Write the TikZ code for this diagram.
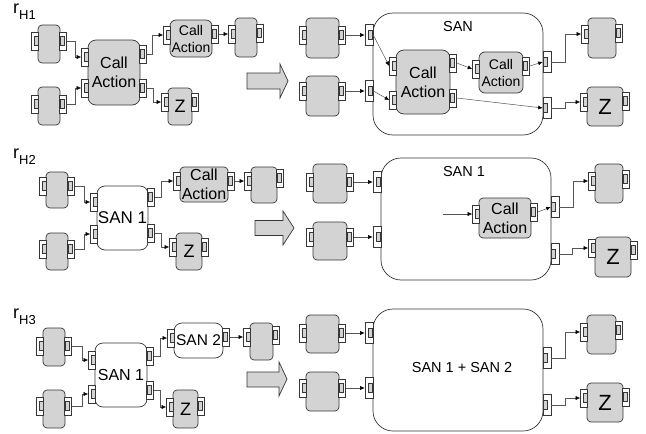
\documentclass[tikz,border=0pt]{standalone}
\usepackage{fontspec}
\setmainfont{Liberation Sans}
\usetikzlibrary{arrows.meta}
\definecolor{boxgray}{RGB}{211,211,211}
\definecolor{edgegray}{RGB}{55,55,55}
\definecolor{linegray}{RGB}{85,85,85}
\newcommand\portL[3]{\node[portl] (#1) at (#2,#3) {};}
\newcommand\portR[3]{\node[portr] (#1) at (#2,#3) {};}
\newcommand\sportL[3]{\node[portl,sanport] (#1) at (#2,#3) {};}
\newcommand\sportR[3]{\node[portr,sanport] (#1) at (#2,#3) {};}
\begin{document}
\begin{tikzpicture}[x=1pt,y=-1pt,
  comp/.style={draw=edgegray, fill=boxgray, line width=0.7pt, rounded corners=4pt, inner sep=0pt, align=center},
  bigcomp/.style={comp, rounded corners=8pt},
  wcomp/.style={comp, fill=white, rounded corners=8pt},
  san/.style={draw=edgegray, fill=white, line width=0.7pt, rounded corners=20pt, inner sep=0pt},
  portl/.style={draw=edgegray, fill=white, line width=0.6pt, minimum width=7pt, minimum height=18pt, inner sep=0pt,
    path picture={\draw[edgegray, fill=boxgray, line width=0.6pt] ([xshift=-4.6pt,yshift=-4.5pt]path picture bounding box.east) rectangle ([xshift=-0.7pt,yshift=4.5pt]path picture bounding box.east);}},
  portr/.style={draw=edgegray, fill=white, line width=0.6pt, minimum width=7pt, minimum height=18pt, inner sep=0pt,
    path picture={\draw[edgegray, fill=boxgray, line width=0.6pt] ([xshift=0.7pt,yshift=-4.5pt]path picture bounding box.west) rectangle ([xshift=4.6pt,yshift=4.5pt]path picture bounding box.west);}},
  sanport/.style={minimum width=8pt, minimum height=21pt},
  conn/.style={draw=linegray, line width=0.5pt, -{Latex[length=4.5pt,width=4pt,color=black]}},
  bigarrow/.style={draw=edgegray, fill=boxgray, line width=0.7pt},
  fbig/.style={font=\fontsize{16}{19}\selectfont},
  fsmall/.style={font=\fontsize{14}{17}\selectfont},
  fz/.style={font=\fontsize{18}{18}\selectfont},
  fZ/.style={font=\fontsize{22}{22}\selectfont},
  lbl/.style={inner sep=0pt, font=\fontsize{14.5}{17}\selectfont},
  rlab/.style={anchor=base west, inner sep=0pt, font=\fontsize{18}{18}\selectfont}
]
\useasboundingbox (0,0) rectangle (646,434);

% ---------------- labels
\node[rlab] (lH1) at (13,13) {r\raisebox{-6pt}{\fontsize{13}{13}\selectfont H1}};
\node[rlab] (lH2) at (13,158) {r\raisebox{-6pt}{\fontsize{13}{13}\selectfont H2}};
\node[rlab] (lH3) at (13,318) {r\raisebox{-6pt}{\fontsize{13}{13}\selectfont H3}};

% ================= ROW 1 left
\node[comp, minimum width=22pt, minimum height=38pt] (A1) at (49,44) {};
\node[comp, minimum width=22pt, minimum height=38pt] (A2) at (49,106) {};
\node[bigcomp, fbig, minimum width=52pt, minimum height=65pt] (CA1) at (114,72.5) {Call\\Action};
\node[comp, fsmall, rounded corners=6pt, minimum width=42pt, minimum height=37pt] (CAs1) at (191,38.5) {Call\\Action};
\node[comp, fz, minimum width=24pt, minimum height=37pt] (Z1) at (180,106.5) {Z};
\node[comp, minimum width=22pt, minimum height=39pt] (A3) at (246,37.5) {};
\portL{A1L}{35}{41}\portR{A1R}{63}{41}
\portL{A2L}{35}{104}\portR{A2R}{63}{104}
\portL{CA1L1}{85}{57}\portL{CA1L2}{85}{88}
\portR{CA1R1}{143}{54}\portR{CA1R2}{143}{88}
\portL{CAs1L}{167}{35}\portR{CAs1R}{215}{34}
\portL{Z1L}{165}{102}\portR{Z1R}{195}{102}
\portL{A3L}{232}{34}\portR{A3R}{260}{33}
\draw[conn] (A1R.east) -- ++(8,0) |- (CA1L1.west);
\draw[conn] (A2R.east) -- ++(8,0) |- (CA1L2.west);
\draw[conn] (CA1R1.east) -- ++(5,0) |- (CAs1L.west);
\draw[conn] (CA1R2.east) -- ++(6,0) |- (Z1L.west);
\draw[conn] (CAs1R.east) -- (A3L.west);
\draw[bigarrow] (247,73) -- (280,73) -- (280,64) -- (288,81) -- (280,98) -- (280,89) -- (247,89) -- cycle;

% ================= ROW 1 right
\node[comp, minimum width=33pt, minimum height=40pt] (B1) at (322.5,38) {};
\node[comp, minimum width=33pt, minimum height=40pt] (B2) at (322.5,96) {};
\node[san, minimum width=170pt, minimum height=122pt] (SAN) at (458,74) {};
\node[lbl] (SANt) at (458,27) {SAN};
\node[bigcomp, fbig, minimum width=54pt, minimum height=64pt] (CA2) at (423,82) {Call\\Action};
\node[comp, fsmall, rounded corners=6pt, minimum width=44pt, minimum height=41pt] (CAs2) at (501,72.5) {Call\\Action};
\node[comp, minimum width=28pt, minimum height=40pt] (C1) at (602,38) {};
\node[comp, fZ, minimum width=36pt, minimum height=39pt] (Z2) at (605,106.5) {Z};
\portL{B1L}{303}{35}\portR{B1R}{342}{35}
\portL{B2L}{303}{91}\portR{B2R}{342}{91}
\sportL{SANL1}{369}{35}\sportL{SANL2}{369}{91}
\sportR{SANR1}{547}{62}\sportR{SANR2}{547}{108}
\portL{CA2L1}{393}{66}\portL{CA2L2}{393}{100}
\portR{CA2R1}{453}{63}\portR{CA2R2}{453}{98}
\portL{CAs2L}{476}{69}\portR{CAs2R}{526}{66}
\portL{C1L}{585}{34}\portR{C1R}{619}{33}
\portL{Z2L}{584}{102}\portR{Z2R}{626}{101}
\draw[conn] (B1R.east) -- (SANL1.west);
\draw[conn] (B2R.east) -- (SANL2.west);
\draw[conn] (SANL1.east) -- (CA2L1.west);
\draw[conn] (SANL2.east) -- (CA2L2.west);
\draw[conn] (CA2R1.east) -- (CAs2L.west);
\draw[conn] (CAs2R.east) -- (SANR1.west);
\draw[conn] (CA2R2.east) -- (SANR2.west);
\draw[conn] (SANR1.east) -- ++(14,0) |- (C1L.west);
\draw[conn] (SANR2.east) -- ++(14,0) |- (Z2L.west);

% ================= ROW 2 left
\node[comp, minimum width=22pt, minimum height=36pt] (D1) at (57,190) {};
\node[comp, minimum width=22pt, minimum height=37pt] (D2) at (57,251.5) {};
\node[wcomp, font=\fontsize{17}{17}\selectfont, minimum width=51pt, minimum height=64pt] (SAN1a) at (122.5,218) {SAN 1};
\node[comp, fbig, minimum width=48pt, minimum height=35pt] (CA3) at (204,184.5) {Call\\Action};
\node[comp, minimum width=26pt, minimum height=36pt] (D3) at (264,185) {};
\node[comp, fz, minimum width=26pt, minimum height=37pt] (Z3) at (189,251.5) {Z};
\portL{D1L}{43}{186}\portR{D1R}{71}{186}
\portL{D2L}{43}{249}\portR{D2R}{71}{249}
\portL{SAN1aL1}{94}{202}\portL{SAN1aL2}{94}{234}
\portR{SAN1aR1}{151}{197}\portR{SAN1aR2}{151}{233}
\portL{CA3L}{177}{181}\portR{CA3R}{231}{181}
\portL{D3L}{248}{181}\portR{D3R}{280}{178}
\portL{Z3L}{173}{247}\portR{Z3R}{205}{247}
\draw[conn] (D1R.east) -- ++(9,0) |- (SAN1aL1.west);
\draw[conn] (D2R.east) -- ++(9,0) |- (SAN1aL2.west);
\draw[conn] (SAN1aR1.east) -- ++(6,0) |- (CA3L.west);
\draw[conn] (CA3R.east) -- (D3L.west);
\draw[conn] (SAN1aR2.east) -- ++(6,0) |- (Z3L.west);
\draw[bigarrow] (255,220.5) -- (283,220.5) -- (283,211) -- (294,228) -- (283,245) -- (283,235.5) -- (255,235.5) -- cycle;

% ================= ROW 2 right
\node[comp, minimum width=34pt, minimum height=39pt] (E1) at (330,183.5) {};
\node[comp, minimum width=34pt, minimum height=38pt] (E2) at (330,241) {};
\node[san, minimum width=170pt, minimum height=122pt] (SAN1b) at (466,219) {};
\node[lbl] (SAN1bt) at (464,172) {SAN 1};
\coordinate (freeA) at (443,214);
\node[comp, fbig, minimum width=52pt, minimum height=40pt] (CA4) at (505,218) {Call\\Action};
\node[comp, minimum width=28pt, minimum height=39pt] (E3) at (609,183.5) {};
\node[comp, fZ, minimum width=36pt, minimum height=40pt] (E4) at (613,257) {Z};
\portL{E1L}{310}{182}\portR{E1R}{350}{182}
\portL{E2L}{310}{237}\portR{E2R}{350}{237}
\sportL{SAN1bL1}{377}{182}\sportL{SAN1bL2}{377}{237}
\sportR{SAN1bR1}{555}{207}\sportR{SAN1bR2}{555}{254}
\portL{CA4L}{476}{214}\portR{CA4R}{534}{212}
\portL{E3L}{592}{181}\portR{E3R}{626}{179}
\portL{E4L}{592}{248}\portR{E4R}{634}{250}
\draw[conn] (E1R.east) -- (SAN1bL1.west);
\draw[conn] (E2R.east) -- (SAN1bL2.west);
\draw[conn] (freeA) -- (CA4L.west);
\draw[conn] (CA4R.east) -- (SAN1bR1.west);
\draw[conn] (SAN1bR1.east) -- ++(14,0) |- (E3L.west);
\draw[conn] (SAN1bR2.east) -- ++(13,0) |- (E4L.west);

% ================= ROW 3 left
\node[comp, minimum width=22pt, minimum height=38pt] (F1) at (54,347) {};
\node[comp, minimum width=22pt, minimum height=38pt] (F2) at (54,409) {};
\node[wcomp, font=\fontsize{16}{16}\selectfont, minimum width=52pt, minimum height=64pt] (SAN1c) at (121,375) {SAN 1};
\node[wcomp, font=\fontsize{15.5}{15.5}\selectfont, minimum width=49pt, minimum height=35pt] (SAN2) at (198.5,340.5) {SAN 2};
\node[comp, minimum width=23pt, minimum height=37pt] (F3) at (261.5,341.5) {};
\node[comp, fz, minimum width=25pt, minimum height=38pt] (Z4) at (185.5,409) {Z};
\portL{F1L}{40}{346}\portR{F1R}{68}{346}
\portL{F2L}{40}{406}\portR{F2R}{68}{406}
\portL{SAN1cL1}{92}{360}\portL{SAN1cL2}{92}{394}
\portR{SAN1cR1}{150}{356}\portR{SAN1cR2}{150}{390}
\portL{SAN2L}{171}{338}\portR{SAN2R}{226}{337}
\portL{F3L}{247}{337}\portR{F3R}{276}{335}
\portL{Z4L}{170}{407}\portR{Z4R}{201}{406}
\draw[conn] (F1R.east) -- ++(10,0) |- (SAN1cL1.west);
\draw[conn] (F2R.east) -- ++(10,0) |- (SAN1cL2.west);
\draw[conn] (SAN1cR1.east) -- ++(6,0) |- (SAN2L.west);
\draw[conn] (SAN2R.east) -- (F3L.west);
\draw[conn] (SAN1cR2.east) -- ++(6,0) |- (Z4L.west);
\draw[bigarrow] (247,372) -- (279,372) -- (279,362) -- (287,379) -- (279,396) -- (279,387) -- (247,387) -- cycle;

% ================= ROW 3 right
\node[comp, minimum width=33pt, minimum height=38pt] (G1) at (322.5,334) {};
\node[comp, minimum width=33pt, minimum height=39pt] (G2) at (322.5,391.5) {};
\node[san, minimum width=170pt, minimum height=122pt] (SAN12) at (458,370) {};
\node[lbl] (SAN12t) at (462,368) {SAN 1 + SAN 2};
\node[comp, minimum width=29pt, minimum height=39pt] (G3) at (601.5,334.5) {};
\node[comp, fZ, minimum width=36pt, minimum height=39pt] (G4) at (605,402.5) {Z};
\portL{G1L}{303}{333}\portR{G1R}{342}{333}
\portL{G2L}{303}{388}\portR{G2R}{342}{388}
\sportL{SAN12L1}{369}{333}\sportL{SAN12L2}{369}{388}
\sportR{SAN12R1}{547}{358}\sportR{SAN12R2}{547}{405}
\portL{G3L}{584}{332}\portR{G3R}{619}{330}
\portL{G4L}{584}{398}\portR{G4R}{626}{397}
\draw[conn] (G1R.east) -- (SAN12L1.west);
\draw[conn] (G2R.east) -- (SAN12L2.west);
\draw[conn] (SAN12R1.east) -- ++(14,0) |- (G3L.west);
\draw[conn] (SAN12R2.east) -- ++(14,0) |- (G4L.west);
\end{tikzpicture}
\end{document}
